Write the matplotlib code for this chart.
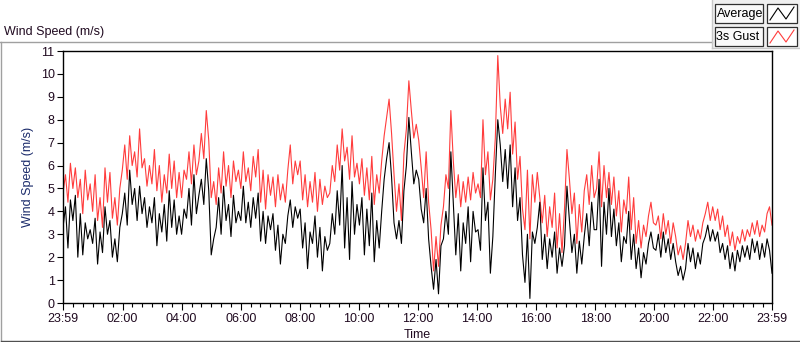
import numpy as np
import matplotlib
matplotlib.use("Agg")
import matplotlib.pyplot as plt
from matplotlib.patches import Rectangle
from matplotlib.lines import Line2D

# ---- data (5-minute samples, m/s), one row per hour ----
gust = [
    4.8, 5.6, 4.4, 6.1, 5.0, 5.9, 4.6, 5.4, 3.9, 5.8, 4.5, 5.2,
    4.0, 5.6, 3.6, 4.6, 3.3, 5.9, 4.4, 5.7, 3.7, 4.6, 3.4, 5.0,
    5.8, 6.9, 5.4, 7.3, 6.0, 6.6, 5.5, 7.6, 5.9, 6.3, 5.1, 6.0,
    5.2, 6.7, 4.9, 6.0, 4.4, 5.6, 4.8, 6.5, 5.0, 6.2, 4.6, 5.7,
    4.6, 5.8, 5.4, 6.6, 5.2, 6.9, 5.6, 6.2, 7.4, 6.3, 8.4, 7.1,
    4.6, 5.3, 4.3, 5.9, 4.8, 6.6, 5.1, 6.0, 4.6, 6.2, 5.3, 5.8,
    5.0, 6.6, 5.3, 5.9, 4.9, 6.4, 5.5, 6.7, 4.4, 5.8, 4.1, 5.6,
    4.7, 5.5, 4.2, 5.6, 4.5, 5.2, 4.4, 5.8, 6.9, 5.2, 6.2, 5.6,
    6.2, 4.5, 5.6, 4.2, 5.3, 4.4, 5.7, 4.0, 5.4, 4.3, 5.1, 4.6,
    4.8, 6.0, 5.3, 6.9, 5.8, 7.6, 6.2, 6.8, 5.4, 7.3, 5.5, 6.1,
    5.2, 6.3, 4.7, 5.9, 4.5, 6.4, 4.3, 5.6, 4.8, 6.2, 7.3, 8.1,
    8.9, 7.4, 5.6, 4.0, 5.2, 3.6, 6.5, 7.6, 9.7, 8.4, 7.2, 7.8,
    7.1, 5.9, 4.6, 6.6, 4.4, 3.2, 1.4, 2.9, 1.6, 3.4, 4.2, 5.6,
    5.0, 8.4, 6.2, 4.6, 5.6, 4.2, 5.3, 4.4, 5.5, 4.5, 5.7, 4.8,
    5.2, 4.6, 8.0, 5.6, 6.6, 4.5, 5.4, 7.2, 10.8, 8.6, 7.4, 8.9,
    7.6, 9.2, 6.5, 7.9, 5.4, 6.4, 4.1, 3.2, 5.8, 2.8, 5.6, 4.4,
    5.7, 4.6, 3.5, 4.7, 2.9, 4.2, 3.3, 4.8, 2.4, 3.9, 2.2, 4.1,
    6.7, 5.4, 3.9, 4.8, 2.6, 4.3, 3.1, 4.9, 5.6, 4.3, 6.0, 4.6,
    5.0, 6.6, 4.2, 6.0, 4.6, 5.7, 4.3, 5.5, 3.8, 4.9, 3.1, 4.5,
    3.9, 5.5, 3.2, 4.6, 2.6, 3.6, 2.4, 3.4, 2.9, 3.8, 4.4, 3.5,
    3.4, 3.8, 2.8, 3.9, 3.0, 3.6, 2.6, 3.5, 2.9, 2.1, 2.5, 1.9,
    2.6, 3.6, 2.9, 3.4, 2.7, 3.2, 2.8, 3.5, 3.9, 4.4, 3.6, 4.2,
    3.6, 4.1, 3.2, 3.8, 2.9, 3.4, 2.5, 3.1, 2.3, 2.9, 2.6, 3.2,
    2.7, 3.2, 2.9, 3.5, 3.0, 3.6, 2.9, 3.4, 3.1, 3.9, 4.2, 3.4,
]
average = [
    3.3, 4.2, 2.4, 4.5, 3.6, 4.7, 2.0, 3.9, 2.1, 3.5, 2.8, 3.2,
    2.6, 3.7, 1.7, 3.1, 2.2, 4.2, 3.0, 3.6, 2.0, 2.8, 1.8, 3.3,
    3.9, 4.8, 3.4, 5.8, 4.3, 5.0, 3.6, 5.1, 3.9, 4.6, 3.3, 4.2,
    3.5, 4.6, 2.5, 3.9, 3.1, 4.3, 2.7, 4.9, 3.3, 4.5, 3.0, 3.8,
    3.0, 4.1, 3.7, 5.0, 3.4, 5.6, 3.9, 4.7, 5.4, 4.3, 6.3, 4.9,
    2.1, 2.8, 3.3, 4.6, 3.0, 5.1, 3.6, 4.3, 2.9, 4.7, 3.5, 4.0,
    3.6, 5.1, 3.5, 4.4, 3.3, 4.6, 3.7, 4.8, 2.7, 4.0, 2.6, 3.8,
    3.2, 3.9, 2.3, 3.4, 1.7, 3.0, 2.6, 3.8, 4.5, 3.3, 4.2, 3.7,
    4.1, 2.4, 3.5, 1.5, 3.1, 2.6, 3.8, 2.0, 3.3, 1.4, 2.9, 2.3,
    2.6, 3.9, 3.0, 4.9, 3.4, 6.0, 2.4, 4.6, 1.9, 5.3, 3.0, 4.3,
    3.4, 4.6, 2.1, 4.1, 2.5, 4.8, 1.8, 3.6, 2.4, 4.0, 5.4, 6.3,
    7.0, 5.5, 3.5, 2.8, 3.6, 2.6, 4.9, 6.0, 8.1, 6.6, 5.2, 5.8,
    5.4, 4.1, 3.5, 5.0, 2.8, 1.6, 0.6, 1.9, 0.4, 2.5, 2.8, 4.0,
    3.0, 6.6, 4.3, 2.1, 3.9, 1.4, 3.5, 2.6, 4.2, 1.8, 4.0, 3.1,
    3.2, 2.3, 5.9, 3.6, 4.4, 1.3, 2.9, 5.6, 8.0, 6.9, 5.3, 6.7,
    5.0, 6.9, 4.2, 5.9, 3.6, 4.6, 2.1, 0.9, 3.0, 0.2, 3.1, 2.6,
    3.3, 4.4, 1.9, 3.0, 1.5, 2.8, 2.0, 3.1, 1.3, 2.4, 1.6, 2.5,
    5.1, 3.6, 2.2, 3.0, 1.3, 2.7, 1.7, 2.9, 3.9, 2.5, 4.4, 3.2,
    3.2, 5.4, 1.6, 4.4, 3.0, 5.0, 2.9, 4.1, 2.5, 3.5, 1.8, 2.9,
    2.6, 4.0, 1.9, 3.0, 1.5, 2.4, 1.1, 2.2, 1.7, 2.6, 3.1, 2.4,
    2.3, 3.0, 2.0, 3.1, 2.2, 2.8, 1.9, 2.6, 1.8, 1.2, 1.6, 1.0,
    1.5, 2.6, 1.8, 2.4, 1.5, 2.2, 1.7, 2.6, 2.9, 3.4, 2.7, 3.2,
    2.7, 3.1, 2.2, 2.6, 1.9, 2.5, 1.5, 2.2, 1.4, 2.3, 1.8, 2.5,
    2.0, 2.5, 1.9, 2.8, 2.2, 2.7, 1.9, 2.6, 2.0, 2.8, 2.3, 1.3,
]
x_tick_labels = ["23:59", "02:00", "04:00", "06:00", "08:00", "10:00", "12:00",
                 "14:00", "16:00", "18:00", "20:00", "22:00", "23:59"]
series_names = ["Average", "3s Gust"]

start_h = -1 / 60.0          # 23:59 of previous day
end_h = 24 - 1 / 60.0        # 23:59
t = np.linspace(start_h, end_h, len(gust))

W, H = 800, 342
FONT = ['Liberation Sans', 'DejaVu Sans']
plt.rcParams['font.family'] = FONT
fig = plt.figure(figsize=(W / 100, H / 100), dpi=100)
fig.patch.set_facecolor('white')

def fx(px):
    return px / W

def fy(py):
    return 1 - py / H

ax = fig.add_axes([fx(63), fy(303), fx(772) - fx(63), fy(51) - fy(303)])
ax.plot(t, gust, color='#ff3c3c', lw=0.8, zorder=2)
ax.plot(t, average, color='black', lw=0.8, zorder=3)

ax.set_xlim(start_h, end_h)
ax.set_ylim(0, 11)
ax.set_yticks(range(0, 12))
ax.tick_params(axis='y', direction='out', length=4, width=0.8, pad=2,
               labelsize=9, labelcolor='#200a20')
major_x = [start_h] + [2 * k for k in range(1, 12)] + [end_h]
ax.set_xticks(major_x)
ax.set_xticklabels(x_tick_labels)
minor_x = [m / 3.0 for m in range(1, 72) if m % 6 != 0]
ax.set_xticks(minor_x, minor=True)
ax.tick_params(axis='x', which='major', direction='out', length=5, width=0.8,
               pad=2, labelsize=9, labelcolor='#200a20')
ax.tick_params(axis='x', which='minor', direction='out', length=3, width=0.8)
for s in ax.spines.values():
    s.set_color('black')
    s.set_linewidth(1.0)
ax.set_ylabel("Wind Speed (m/s)", fontsize=9, color='#1a2a6a', labelpad=5)
ax.set_xlabel("Time", fontsize=9, color='#200a20', labelpad=3)

# outer frame
fig.add_artist(Line2D([fx(0), fx(712)], [fy(42), fy(42)], color='#a0a0a0', lw=1))
fig.add_artist(Line2D([fx(1), fx(1)], [fy(42), fy(341)], color='#a0a0a0', lw=1))
fig.add_artist(Line2D([fx(1), fx(800)], [fy(341), fy(341)], color='#505050', lw=1))
fig.text(fx(4), fy(32), "Wind Speed (m/s)", fontsize=9, color='#200a20',
         ha='left', va='center')

# legend panel
fig.add_artist(Rectangle((fx(712), fy(48)), fx(88), fy(0) - fy(48),
                         facecolor='#f0f0f0', edgecolor='none'))
fig.add_artist(Line2D([fx(712), fx(712)], [fy(48), fy(0)], color='#c8c8c8', lw=1))
fig.add_artist(Line2D([fx(712), fx(800)], [fy(48), fy(48)], color='#c8c8c8', lw=1))
colors = ['black', '#ff3c3c']
for i, (name, c) in enumerate(zip(series_names, colors)):
    top = 4 + i * 23
    fig.add_artist(Rectangle((fx(715), fy(top + 19)), fx(48), fy(top) - fy(top + 19),
                             facecolor='#fafafa', edgecolor='#303030', lw=0.9))
    fig.text(fx(716.5), fy(top + 9.5), name, fontsize=9, color='black',
             ha='left', va='center')
    fig.add_artist(Rectangle((fx(767), fy(top + 19)), fx(30), fy(top) - fy(top + 19),
                             facecolor='white', edgecolor='#303030', lw=0.9))
    fig.add_artist(Line2D([fx(770), fx(778), fx(786), fx(794)],
                          [fy(top + 16), fy(top + 4), fy(top + 15), fy(top + 3)],
                          color=c, lw=0.8))

fig.savefig("out.png", dpi=100)
